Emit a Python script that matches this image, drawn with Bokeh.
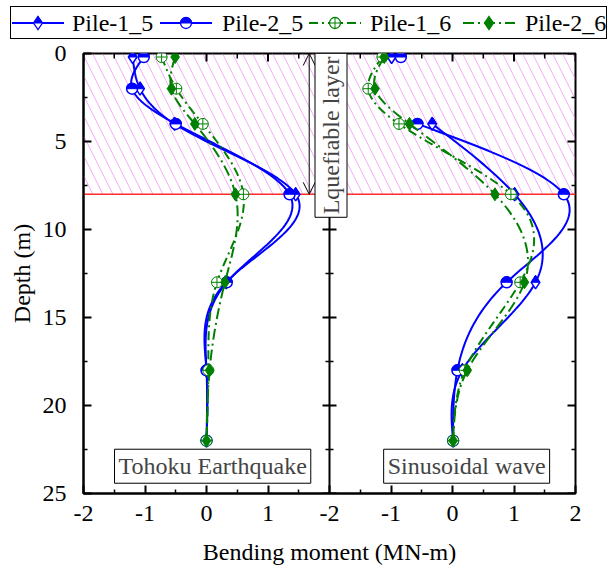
import math
import numpy as np
from bokeh.plotting import figure
from bokeh.layouts import column
from bokeh.models import (Range1d, FixedTicker, Span, BoxAnnotation, Label, Arrow, OpenHead, Div)
from bokeh.embed import file_html
from bokeh.resources import INLINE

nan = float("nan")

# ---------------- data ----------------
DEPTH = [0.2, 2, 4, 8, 13, 18, 22]

TOHOKU_PILE1_5 = [-1.20, -1.08, -0.52, 1.45, 0.32, 0.00, 0.00]
TOHOKU_PILE2_5 = [-1.02, -1.21, -0.50, 1.35, 0.33, 0.00, 0.00]
TOHOKU_PILE1_6 = [-0.73, -0.49, -0.06, 0.60, 0.17, 0.03, 0.00]
TOHOKU_PILE2_6 = [-0.51, -0.57, -0.19, 0.47, 0.30, 0.05, 0.00]

SINE_PILE1_5 = [-0.99, nan, -0.33, 1.01, 1.35, 0.16, 0.01]
SINE_PILE2_5 = [-0.84, nan, -0.57, 1.81, 0.88, 0.08, 0.01]
SINE_PILE1_6 = [-1.14, -1.37, -0.87, 0.95, 1.10, 0.20, 0.01]
SINE_PILE2_6 = [-1.11, -1.26, -0.70, 0.69, 1.17, 0.24, 0.01]

SERIES_NAMES = ["Pile-1_5", "Pile-2_5", "Pile-1_6", "Pile-2_6"]
PANEL_TITLES = ["Tohoku Earthquake", "Sinusoidal wave"]

LAYER_TOP, LAYER_BOTTOM = 0, 8
LAYER_TEXT = "Lquefiable layer"

X_TICKS_PANEL = [-2, -1, 0, 1, 2]
X_MINOR_PANEL = [-1.5, -0.5, 0.5, 1.5]
Y_TICKS = [0, 5, 10, 15, 20, 25]
Y_MINOR = [2.5, 7.5, 12.5, 17.5, 22.5]

# ---------------- style ----------------
FONT = "Liberation Serif"
FS = "24px"
BLUE = "#0000ff"
GREEN = "#008000"
FIG_W = 610
LEG_H = 40
FRAME_W, FRAME_H = 492, 440
B_LEFT, B_TOP, B_RIGHT, B_BOTTOM = 83, 13, 35, 82

STYLES = [
    dict(color=BLUE, dash="solid", marker="diamond", size=13, fill="white", half="tri"),
    dict(color=BLUE, dash="solid", marker="circle", size=11, fill="white", half="wedge"),
    dict(color=GREEN, dash="9 4 2 4", marker="circle_cross", size=11, fill="white", half=None),
    dict(color=GREEN, dash="11 4 2 4", marker="diamond", size=13, fill=GREEN, half=None),
]
TRI_SIZE = 8

# legend layout (pixels)
LEG_BOX = dict(left=10, top=6, width=597, height=33)
LEG_GLYPH_X = [12, 160, 309, 463]
LEG_TEXT_X = [72, 222, 370, 525]
LEG_GLYPH_W = 52


def natural_cubic(t, y, n=40):
    t = np.asarray(t, float)
    y = np.asarray(y, float)
    m = len(t)
    if m == 2:
        return list(t), list(y)
    h = np.diff(t)
    A = np.zeros((m, m))
    rhs = np.zeros(m)
    A[0, 0] = A[-1, -1] = 1
    for i in range(1, m - 1):
        A[i, i - 1] = h[i - 1]
        A[i, i] = 2 * (h[i - 1] + h[i])
        A[i, i + 1] = h[i]
        rhs[i] = 3 * ((y[i + 1] - y[i]) / h[i] - (y[i] - y[i - 1]) / h[i - 1])
    c = np.linalg.solve(A, rhs)
    b = (y[1:] - y[:-1]) / h - h * (2 * c[:-1] + c[1:]) / 3
    d = (c[1:] - c[:-1]) / (3 * h)
    ot, oy = [], []
    for i in range(m - 1):
        s = np.linspace(0, h[i], n, endpoint=(i == m - 2))
        ot.extend(t[i] + s)
        oy.extend(y[i] + b[i] * s + c[i] * s ** 2 + d[i] * s ** 3)
    return ot, oy


def spline_path(depth, vals):
    d = np.array(depth, float)
    v = np.array(vals, float)
    runs, cur = [], []
    for i in range(len(d)):
        if not np.isnan(v[i]):
            cur.append(i)
        elif cur:
            runs.append(cur)
            cur = []
    if cur:
        runs.append(cur)
    xs, ys = [], []
    for r in runs:
        if len(r) < 2:
            continue
        tt, vv = natural_cubic(d[r], v[r])
        if xs:
            xs.append(nan)
            ys.append(nan)
        xs.extend(vv)
        ys.extend(tt)
    return xs, ys


# ================= main plot =================
span_w = X_TICKS_PANEL[-1] - X_TICKS_PANEL[0]
p = figure(width=FIG_W, height=B_TOP + FRAME_H + B_BOTTOM,
           x_range=Range1d(X_TICKS_PANEL[0], X_TICKS_PANEL[0] + 2 * span_w),
           y_range=Range1d(Y_TICKS[-1], Y_TICKS[0]),
           output_backend="svg", toolbar_location=None,
           min_border_left=B_LEFT, min_border_top=B_TOP,
           min_border_right=B_RIGHT, min_border_bottom=B_BOTTOM)
p.extra_x_ranges = {"right": Range1d(X_TICKS_PANEL[0] - span_w, X_TICKS_PANEL[-1])}
p.xgrid.visible = False
p.ygrid.visible = False
p.outline_line_color = "black"
p.outline_line_width = 2
p.background_fill_color = "white"
p.border_fill_color = "white"

x_mid = X_TICKS_PANEL[-1]
x_hi = X_TICKS_PANEL[0] + 2 * span_w

# hatched liquefiable layer + boundary
p.add_layout(BoxAnnotation(top=LAYER_TOP, bottom=LAYER_BOTTOM, fill_alpha=0, line_color=None,
                           hatch_pattern="\\", hatch_color="#ee77ee", hatch_alpha=0.6,
                           hatch_weight=1, hatch_scale=20, level="underlay"))
p.add_layout(Span(location=LAYER_BOTTOM, dimension="width", line_color="#ff2a2a",
                  line_width=1.5, level="underlay"))
# panel divider
p.add_layout(Span(location=x_mid, dimension="height", line_color="black", line_width=2))

# tick marks on the divider, the top and the right frame edges
p.scatter([x_mid] * len(Y_TICKS), Y_TICKS, marker="dash", size=14, line_color="black", line_width=2)
p.scatter([x_mid] * len(Y_MINOR), Y_MINOR, marker="dash", size=8, line_color="black", line_width=1.5)
p.scatter([x_hi] * len(Y_TICKS), Y_TICKS, marker="dash", size=16, line_color="black", line_width=2)
p.scatter([x_hi] * len(Y_MINOR), Y_MINOR, marker="dash", size=8, line_color="black", line_width=1.5)

pos, labels = [], {}
for t in X_TICKS_PANEL:
    pos.append(t)
    labels[t] = str(t)
for t in X_TICKS_PANEL:
    q = t + span_w
    if q not in labels:
        pos.append(q)
    labels[q] = str(t)
minor = list(X_MINOR_PANEL) + [m + span_w for m in X_MINOR_PANEL]
p.scatter(pos, [Y_TICKS[0]] * len(pos), marker="dash", angle=math.pi / 2, size=16,
          line_color="black", line_width=2)
p.scatter(minor, [Y_TICKS[0]] * len(minor), marker="dash", angle=math.pi / 2, size=10,
          line_color="black", line_width=1.5)

ppm = FRAME_H / (Y_TICKS[-1] - Y_TICKS[0])
toff = (TRI_SIZE / 2) * math.sqrt(3) / 3 / ppm

panels = [
    (None, [TOHOKU_PILE1_5, TOHOKU_PILE2_5, TOHOKU_PILE1_6, TOHOKU_PILE2_6]),
    ("right", [SINE_PILE1_5, SINE_PILE2_5, SINE_PILE1_6, SINE_PILE2_6]),
]

for rname, series in panels:
    kw = {"x_range_name": rname} if rname else {}
    for si, vals in enumerate(series):
        st = STYLES[si]
        lx, ly = spline_path(DEPTH, vals)
        mx = [v for v in vals if not math.isnan(v)]
        my = [d for d, v in zip(DEPTH, vals) if not math.isnan(v)]
        p.line(lx, ly, line_color=st["color"], line_width=2, line_dash=st["dash"], **kw)
        p.scatter(mx, my, marker=st["marker"], size=st["size"], fill_color=st["fill"],
                  line_color=st["color"], line_width=1.5 if st["half"] else 1, **kw)
        if st["half"] == "tri":
            p.scatter(mx, [d - toff for d in my], marker="triangle", size=TRI_SIZE,
                      fill_color=st["color"], line_color=st["color"], line_width=1, **kw)
        elif st["half"] == "wedge":
            p.wedge(mx, my, radius=st["size"] / 2, radius_units="screen", start_angle=0,
                    end_angle=math.pi, direction="anticlock", fill_color=st["color"],
                    line_color=st["color"], line_width=1, **kw)

# axes (bottom and left)
xa = p.xaxis[0]
xa.ticker = FixedTicker(ticks=pos, minor_ticks=minor)
xa.major_label_overrides = {float(k): v for k, v in labels.items()}
xa.axis_label = "Bending moment (MN-m)"
ya = p.yaxis[0]
ya.ticker = FixedTicker(ticks=Y_TICKS, minor_ticks=Y_MINOR)
ya.axis_label = "Depth (m)"
for ax in (xa, ya):
    ax.axis_line_width = 2
    ax.axis_line_color = "black"
    ax.major_tick_in = 8
    ax.major_tick_out = 0
    ax.minor_tick_in = 4
    ax.minor_tick_out = 0
    ax.major_tick_line_width = 2
    ax.minor_tick_line_width = 1.5
    ax.major_label_text_font = FONT
    ax.major_label_text_font_size = FS
    ax.major_label_text_color = "black"
    ax.axis_label_text_font = FONT
    ax.axis_label_text_font_size = FS
    ax.axis_label_text_font_style = "normal"
    ax.axis_label_text_color = "black"
xa.major_label_standoff = 12
xa.axis_label_standoff = 15
ya.major_label_standoff = 17
ya.axis_label_standoff = 5

# annotations
p.add_layout(Arrow(x_start=1.67, y_start=LAYER_TOP, x_end=1.67, y_end=LAYER_BOTTOM,
                   start=OpenHead(size=12, line_width=1), end=OpenHead(size=12, line_width=1),
                   line_width=1, line_color="black"))
p.add_layout(Label(x=x_mid, y=4.65, x_offset=1.5, text=LAYER_TEXT, angle=math.pi / 2,
                   text_align="center", text_baseline="middle", text_font=FONT,
                   text_font_size=FS, background_fill_color="white",
                   border_line_color="black", border_line_width=1, padding=3))
p.add_layout(Label(x=0.1, y=23.45, text=PANEL_TITLES[0], text_align="center",
                   text_baseline="middle", text_font=FONT, text_font_size=FS,
                   background_fill_color="white", border_line_color="black",
                   border_line_width=1, padding=4))
p.add_layout(Label(x=0.23, y=23.45, x_range_name="right", text=PANEL_TITLES[1],
                   text_align="center", text_baseline="middle", text_font=FONT,
                   text_font_size=FS, background_fill_color="white",
                   border_line_color="black", border_line_width=1, padding=4))


# ================= legend strip (HTML) =================
def legend_symbol(st, w=LEG_GLYPH_W, h=20):
    c = st["color"]
    cy = h / 2
    cx = w / 2
    dash = "" if st["dash"] == "solid" else f' stroke-dasharray="{st["dash"]}"'
    s = f'<line x1="0" y1="{cy}" x2="{w}" y2="{cy}" stroke="{c}" stroke-width="2"{dash}/>'
    r = st["size"] / 2
    if st["marker"] == "diamond":
        hw = r / 1.45
        pts = f"{cx},{cy - r} {cx + hw},{cy} {cx},{cy + r} {cx - hw},{cy}"
        s += f'<polygon points="{pts}" fill="{st["fill"]}" stroke="{c}" stroke-width="1.3"/>'
        if st["half"] == "tri":
            s += (f'<polygon points="{cx},{cy - r} {cx + hw},{cy} {cx - hw},{cy}" '
                  f'fill="{c}" stroke="{c}" stroke-width="1"/>')
    else:
        s += f'<circle cx="{cx}" cy="{cy}" r="{r}" fill="{st["fill"]}" stroke="{c}" stroke-width="1.3"/>'
        if st["half"] == "wedge":
            s += (f'<path d="M{cx - r},{cy} A{r},{r} 0 0 1 {cx + r},{cy} Z" fill="{c}" '
                  f'stroke="{c}" stroke-width="1"/>')
        if st["marker"] == "circle_cross":
            s += (f'<line x1="{cx - r}" y1="{cy}" x2="{cx + r}" y2="{cy}" stroke="{c}" stroke-width="1"/>'
                  f'<line x1="{cx}" y1="{cy - r}" x2="{cx}" y2="{cy + r}" stroke="{c}" stroke-width="1"/>')
    return f'<svg width="{w}" height="{h}" style="display:block">{s}</svg>'


mid_y = LEG_BOX["top"] + LEG_BOX["height"] / 2
parts = [f'<div style="position:relative;width:{FIG_W}px;height:{LEG_H}px;background:white;">',
         f'<div style="position:absolute;left:{LEG_BOX["left"]}px;top:{LEG_BOX["top"]}px;'
         f'width:{LEG_BOX["width"]}px;height:{LEG_BOX["height"]}px;border:1px solid black;'
         f'box-sizing:border-box;background:white;"></div>']
for st, name, gx, tx in zip(STYLES, SERIES_NAMES, LEG_GLYPH_X, LEG_TEXT_X):
    parts.append(f'<div style="position:absolute;left:{gx}px;top:{mid_y - 10}px;">'
                 f'{legend_symbol(st)}</div>')
    parts.append(f'<span style="position:absolute;left:{tx}px;top:{mid_y - 14}px;'
                 f'font-family:\'{FONT}\';font-size:{FS};line-height:28px;color:black;'
                 f'white-space:nowrap;">{name}</span>')
parts.append('</div>')
legend_div = Div(text="".join(parts), width=FIG_W, height=LEG_H, margin=0)

layout = column(legend_div, p, spacing=0)
open("out.html", "w").write(file_html(layout, INLINE))
